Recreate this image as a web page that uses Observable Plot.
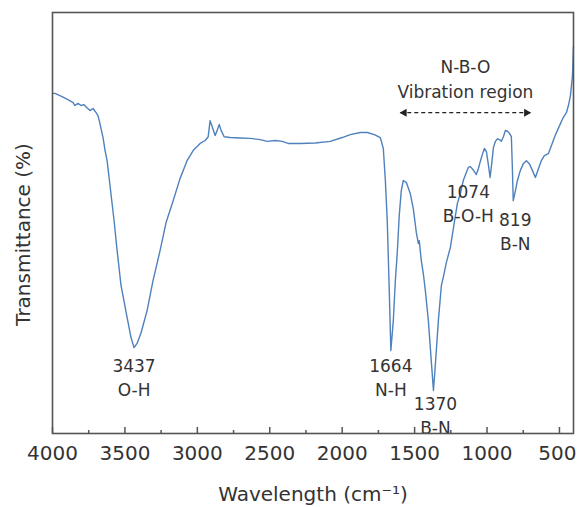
<!DOCTYPE html>
<html>
<head>
<meta charset="utf-8">
<script src="https://cdn.jsdelivr.net/npm/d3@7"></script>
<script src="https://cdn.jsdelivr.net/npm/@observablehq/plot@0.6"></script>
<style>
  html, body { margin: 0; padding: 0; background: #fff; }
</style>
</head>
<body>
<script>
// FTIR spectrum: wavenumber (cm⁻¹) and transmittance (arbitrary %)
const wavenumber = [
  4000, 3983, 3934, 3893, 3858, 3845, 3824, 3803, 3782, 3762, 3741, 3720, 3699, 3686,
  3672, 3665, 3651, 3637, 3623, 3603, 3575, 3554, 3527, 3485, 3458, 3437, 3416, 3388,
  3347, 3306, 3257, 3216, 3167, 3119, 3071, 3029, 2981, 2946, 2925, 2912, 2898, 2877,
  2863, 2849, 2836, 2815, 2773, 2704, 2635, 2566, 2518, 2462, 2414, 2373, 2290, 2186,
  2082, 2000, 1944, 1875, 1827, 1778, 1737, 1716, 1702, 1689, 1675, 1664, 1647, 1633,
  1620, 1606, 1592, 1578, 1557, 1530, 1509, 1488, 1474, 1468, 1454, 1440, 1426, 1405,
  1385, 1370, 1357, 1336, 1315, 1302, 1281, 1253, 1226, 1205, 1184, 1164, 1143, 1129,
  1115, 1095, 1074, 1059, 1045, 1032, 1018, 1004, 990, 979, 968, 956, 942, 928,
  914, 901, 887, 873, 859, 845, 832, 825, 819, 804, 790, 770, 749, 728,
  708, 687, 666, 645, 625, 604, 576, 555, 535, 514, 493, 473, 452, 438,
  424, 410, 403
];
const transmittance = [
  80.8, 80.8, 80.0, 79.3, 78.6, 77.9, 78.4, 77.9, 78.1, 77.4, 76.7, 77.2, 76.2, 75.5,
  73.6, 72.4, 70.3, 67.2, 64.8, 58.9, 50.6, 43.5, 35.2, 27.6, 22.8, 20.4, 21.4, 24.0,
  29.2, 36.3, 43.5, 50.1, 55.3, 60.6, 64.8, 67.2, 68.9, 69.6, 70.5, 74.3, 72.9, 70.8,
  72.0, 73.4, 72.0, 70.5, 70.3, 70.2, 70.1, 69.8, 69.4, 69.6, 69.4, 68.9, 68.9, 69.0,
  69.4, 70.3, 71.0, 71.5, 71.5, 71.0, 70.3, 67.7, 60.1, 50.6, 34.0, 19.7, 26.8, 36.3,
  42.8, 51.8, 57.7, 60.1, 59.6, 57.0, 53.4, 47.7, 45.1, 45.8, 41.1, 38.0, 34.0, 26.8,
  17.3, 10.2, 16.2, 26.8, 35.2, 37.1, 40.6, 44.2, 50.1, 54.6, 57.0, 60.1, 62.0, 63.2,
  63.4, 62.6, 61.5, 63.0, 64.8, 66.3, 67.7, 66.9, 63.7, 60.8, 64.0, 67.9, 69.4, 70.0,
  69.8, 69.4, 70.5, 72.0, 71.8, 71.3, 70.5, 63.0, 55.3, 57.7, 60.1, 62.5, 64.1, 64.8,
  64.1, 62.5, 60.8, 62.9, 64.8, 66.0, 66.5, 68.4, 70.3, 72.0, 73.6, 75.1, 76.2, 77.9,
  80.3, 85.0, 92.0
];

// Assigned absorption bands
const peakWn = [3437, 1664, 1370, 1074, 819];
const peakBond = ["O-H", "N-H", "B-N", "B-O-H", "B-N"];

// N-B-O vibration region bracket
const regionLabel = "N-B-O\nVibration region";
const regionFrom = 1599;
const regionTo = 700;
const regionLevel = 76.2;

// Axis ticks
const majorTicks = [4000, 3500, 3000, 2500, 2000, 1500, 1000, 500];
const minorTicks = [3750, 3250, 2750, 2250, 1750, 1250, 750];

const spectrum = wavenumber.map((w, i) => ({w, t: transmittance[i]}));
const peaks = peakWn.map((w, i) => ({
  w,
  t: transmittance[wavenumber.indexOf(w)],
  label: `${w}\n${peakBond[i]}`
}));

// per-label offsets (px) below each band minimum
const labelShift = [
  {dx: 0, dy: 8}, {dx: 0, dy: 5}, {dx: 2, dy: 3}, {dx: -8, dy: 7}, {dx: 2, dy: 9}
];

const W = 577, H = 507;
const mTop = 12, mBottom = 74, mLeft = 52, mRight = 4;
const innerH = H - mTop - mBottom;
const ink = "#333";
const frameInk = "#555";
const font = "DejaVu Sans";

const chart = Plot.plot({
  width: W,
  height: H,
  marginTop: mTop,
  marginBottom: mBottom,
  marginLeft: mLeft,
  marginRight: mRight,
  style: {fontFamily: font, background: "#fff", color: ink},
  x: {domain: [4000, 403], axis: null},
  y: {domain: [0, 100], axis: null},
  marks: [
    // spectrum trace
    Plot.line(spectrum, {x: "w", y: "t", stroke: "#4f81bd", strokeWidth: 1.4, curve: "linear"}),

    // band labels
    ...peaks.map((p, i) => Plot.text([p], {
      x: "w", y: "t", text: "label",
      dx: labelShift[i].dx, dy: labelShift[i].dy,
      lineAnchor: "top", lineHeight: 1.38,
      fontSize: 17, fill: ink
    })),

    // dashed double-headed arrow over the N-B-O region
    Plot.link([{a: regionFrom, b: regionTo}], {
      x1: "a", x2: "b", y1: () => regionLevel, y2: () => regionLevel,
      stroke: "#222", strokeWidth: 1.3, strokeDasharray: "4,3"
    }),
    Plot.dot([regionFrom], {x: d => d, y: () => regionLevel, symbol: "triangle", r: 3, rotate: -90, dx: 4, fill: "#222", stroke: "none"}),
    Plot.dot([regionTo], {x: d => d, y: () => regionLevel, symbol: "triangle", r: 3, rotate: 90, dx: -4, fill: "#222", stroke: "none"}),
    Plot.text([regionLabel], {
      x: () => (regionFrom + regionTo) / 2, y: () => regionLevel,
      text: d => d, lineAnchor: "bottom", lineHeight: 1.47, dy: -15,
      fontSize: 17, fill: ink
    }),

    // inward ticks on the bottom axis
    Plot.ruleX(majorTicks, {x: d => d, insetTop: innerH - 6, stroke: frameInk, strokeWidth: 1.5}),
    Plot.ruleX(minorTicks, {x: d => d, insetTop: innerH - 3, stroke: frameInk, strokeWidth: 1.5}),
    Plot.frame({stroke: frameInk, strokeWidth: 1.6}),

    // tick labels (the last one nudged to stay inside the page)
    Plot.text(majorTicks.slice(0, -1), {x: d => d, text: d => String(d), frameAnchor: "bottom", dy: 20, lineAnchor: "middle", fontSize: 20, fill: ink}),
    Plot.text(majorTicks.slice(-1), {x: d => d, text: d => String(d), frameAnchor: "bottom", dx: -2, dy: 20, lineAnchor: "middle", fontSize: 20, fill: ink}),

    // axis titles
    Plot.text(["Wavelength (cm⁻¹)"], {text: d => d, frameAnchor: "bottom", dy: 61, lineAnchor: "middle", fontSize: 20, fill: ink}),
    Plot.text(["Transmittance (%)"], {text: d => d, frameAnchor: "left", textAnchor: "middle", dx: -29, dy: 11.5, rotate: -90, lineAnchor: "middle", fontSize: 20, fill: ink})
  ]
});

document.body.appendChild(chart);
</script>
</body>
</html>
